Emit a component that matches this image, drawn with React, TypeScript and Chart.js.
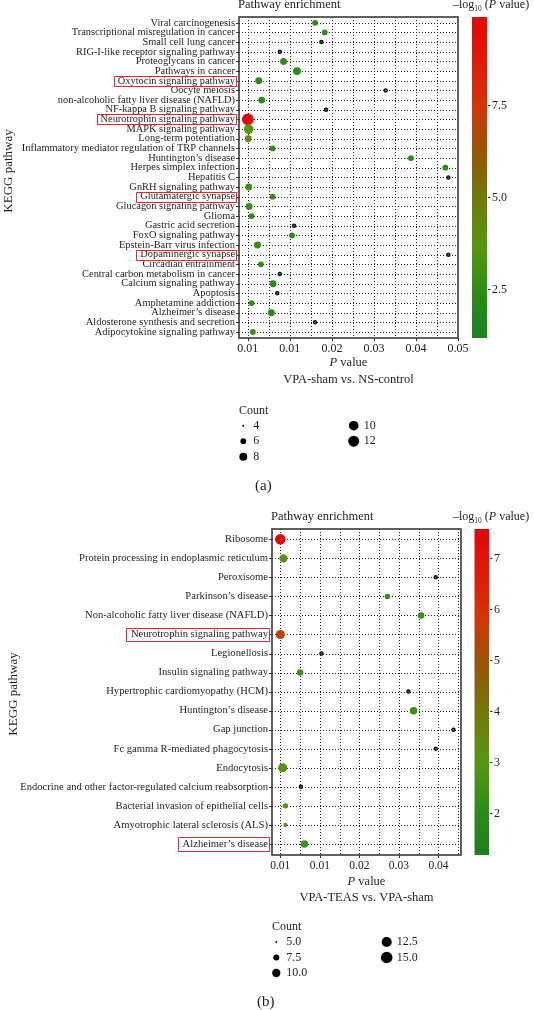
import React, { useEffect, useRef } from "react";
import { Chart, registerables } from "chart.js";

Chart.register(...registerables);

const FONT = "'Liberation Serif', 'Times New Roman', serif";

// ---------------- Panel (a) data ----------------
const aPathways = [
  "Viral carcinogenesis",
  "Transcriptional misregulation in cancer",
  "Small cell lung cancer",
  "RIG-I-like receptor signaling pathway",
  "Proteoglycans in cancer",
  "Pathways in cancer",
  "Oxytocin signaling pathway",
  "Oocyte meiosis",
  "non-alcoholic fatty liver disease (NAFLD)",
  "NF-kappa B signaling pathway",
  "Neurotrophin signaling pathway",
  "MAPK signaling pathway",
  "Long-term potentiation",
  "Inflammatory mediator regulation of TRP channels",
  "Huntington’s disease",
  "Herpes simplex infection",
  "Hepatitis C",
  "GnRH signaling pathway",
  "Glutamatergic synapse",
  "Glucagon signaling pathway",
  "Glioma",
  "Gastric acid secretion",
  "FoxO signaling pathway",
  "Epstein-Barr virus infection",
  "Dopaminergic synapse",
  "Circadian entrainment",
  "Central carbon metabolism in cancer",
  "Calcium signaling pathway",
  "Apoptosis",
  "Amphetamine addiction",
  "Alzheimer’s disease",
  "Aldosterone synthesis and secretion",
  "Adipocytokine signaling pathway",
];
const aPValue = [
  0.016, 0.0183, 0.0175, 0.0076, 0.0085, 0.0117, 0.0026, 0.0328, 0.0033, 0.0186,
  0.0, 0.0002, 0.0001, 0.0059, 0.0388, 0.047, 0.0477, 0.0002, 0.0059, 0.0003,
  0.0009, 0.011, 0.0105, 0.0023, 0.0477, 0.0031, 0.0076, 0.006, 0.007, 0.0009,
  0.0056, 0.016, 0.0012,
];
const aCount = [
  6, 6, 4, 4, 7, 8, 7, 4, 7, 4,
  13, 10, 7, 6, 6, 6, 4, 7, 6, 7,
  6, 4, 6, 7, 4, 6, 4, 7, 4, 6,
  7, 4, 6,
];
const aLogP = [
  2.2, 2.4, 1.5, 1.5, 2.3, 2.3, 2.3, 1.3, 2.3, 1.4,
  9.88, 3.7, 4.2, 2.5, 2.3, 2.3, 1.2, 2.8, 2.4, 2.7,
  2.6, 1.4, 2.3, 2.6, 1.17, 2.4, 1.5, 2.3, 1.4, 2.6,
  2.3, 1.3, 2.7,
];
const aHighlighted = [
  "Oxytocin signaling pathway",
  "Neurotrophin signaling pathway",
  "Glutamatergic synapse",
  "Dopaminergic synapse",
];
const aXTicks = [0, 0.01, 0.02, 0.03, 0.04, 0.05];
const aXTickLabels = ["0.01", "0.01", "0.02", "0.03", "0.04", "0.05"];
const aColorTicks = [2.5, 5.0, 7.5];
const aColorTickLabels = ["2.5", "5.0", "7.5"];
const aLegendCounts = [4, 6, 8, 10, 12];
const aLegendLabels = ["4", "6", "8", "10", "12"];
const aComparison = "VPA-sham vs. NS-control";
const aPanelLabel = "(a)";

// ---------------- Panel (b) data ----------------
const bPathways = [
  "Ribosome",
  "Protein processing in endoplasmic reticulum",
  "Peroxisome",
  "Parkinson’s disease",
  "Non-alcoholic fatty liver disease (NAFLD)",
  "Neurotrophin signaling pathway",
  "Legionellosis",
  "Insulin signaling pathway",
  "Hypertrophic cardiomyopathy (HCM)",
  "Huntington’s disease",
  "Gap junction",
  "Fc gamma R-mediated phagocytosis",
  "Endocytosis",
  "Endocrine and other factor-regulated calcium reabsorption",
  "Bacterial invasion of epithelial cells",
  "Amyotrophic lateral sclerosis (ALS)",
  "Alzheimer’s disease",
];
const bPValue = [
  0.0, 0.0008, 0.0393, 0.0271, 0.0356, 0.0, 0.0104, 0.005, 0.0324, 0.0337,
  0.0438, 0.0393, 0.0006, 0.0052, 0.0013, 0.0013, 0.0061,
];
const bCount = [13, 10, 5, 7, 8, 11, 5, 8, 5, 9, 5, 5, 11, 5, 7, 6, 9];
const bLogP = [
  7.58, 3.2, 1.4, 2.2, 2.3, 5.6, 1.5, 2.4, 1.3, 2.3,
  1.17, 1.4, 3.2, 1.6, 2.8, 2.9, 2.4,
];
const bHighlighted = ["Neurotrophin signaling pathway", "Alzheimer’s disease"];
const bXTicks = [0, 0.01, 0.02, 0.03, 0.04];
const bXTickLabels = ["0.01", "0.01", "0.02", "0.03", "0.04"];
const bColorTicks = [2, 3, 4, 5, 6, 7];
const bColorTickLabels = ["2", "3", "4", "5", "6", "7"];
const bLegendCounts = [5, 7.5, 10, 12.5, 15];
const bLegendLabels = ["5.0", "7.5", "10.0", "12.5", "15.0"];
const bComparison = "VPA-TEAS vs. VPA-sham";
const bPanelLabel = "(b)";

// ---------------- colour scale ----------------
const GRADIENT_STOPS: [number, number, number, number][] = [
  [0, 30, 128, 30],
  [0.12, 40, 138, 25],
  [0.28, 85, 152, 15],
  [0.44, 115, 120, 10],
  [0.58, 150, 85, 5],
  [0.73, 212, 52, 8],
  [0.87, 225, 25, 5],
  [1, 228, 5, 5],
];
function colorAt(t: number): string {
  const tt = Math.max(0, Math.min(1, t));
  for (let i = 1; i < GRADIENT_STOPS.length; i++) {
    const a = GRADIENT_STOPS[i - 1];
    const b = GRADIENT_STOPS[i];
    if (tt <= b[0]) {
      const f = (tt - a[0]) / (b[0] - a[0]);
      const r = Math.round(a[1] + (b[1] - a[1]) * f);
      const g = Math.round(a[2] + (b[2] - a[2]) * f);
      const bl = Math.round(a[3] + (b[3] - a[3]) * f);
      return `rgb(${r},${g},${bl})`;
    }
  }
  return "rgb(228,5,5)";
}

type Layout = {
  height: number;
  area: { left: number; right: number; top: number; bottom: number };
  xMin: number;
  xMax: number;
  minorStep: number;
  yPadTop: number;
  yPadBottom: number;
  labelSize: number;
  yTickPad: number;
  xTickSize: number;
  xTickPad: number;
  baseCount: number;
  sizeK: number;
  bar: { left: number; right: number };
  titleY: number;
  cbTitleX: number;
  yTitleX: number;
  yTitleY: number;
  pValueY: number;
  compY: number;
  legendX: number;
  countY: number;
  legendRows: number[];
  legendCol2X: number;
  panelX: number;
  panelY: number;
  boxPadL: number;
  boxHalfH: number;
};

type Panel = {
  pathways: string[];
  pValue: number[];
  count: number[];
  logP: number[];
  highlighted: string[];
  xTicks: number[];
  xTickLabels: string[];
  colorTicks: number[];
  colorTickLabels: string[];
  legendCounts: number[];
  legendLabels: string[];
  comparison: string;
  panelLabel: string;
  layout: Layout;
};

const W = 534;

const layoutA: Layout = {
  height: 505,
  area: { left: 239, right: 458, top: 17, bottom: 338 },
  xMin: -0.0021,
  xMax: 0.05,
  minorStep: 0.005,
  yPadTop: 0.6,
  yPadBottom: 0.62,
  labelSize: 10.4,
  yTickPad: 4,
  xTickSize: 12,
  xTickPad: 4,
  baseCount: 4,
  sizeK: 3.66,
  bar: { left: 472, right: 487 },
  titleY: 5,
  cbTitleX: 453,
  yTitleX: 9,
  yTitleY: 171,
  pValueY: 363,
  compY: 380,
  legendX: 239,
  countY: 411,
  legendRows: [425.7, 441.2, 456.8],
  legendCol2X: 353.7,
  panelX: 255,
  panelY: 486,
  boxPadL: 4,
  boxHalfH: 5,
};

const layoutB: Layout = {
  height: 505,
  area: { left: 272, right: 461, top: 24, bottom: 350 },
  xMin: -0.0021,
  xMax: 0.0457,
  minorStep: 0.005,
  yPadTop: 0.54,
  yPadBottom: 0.58,
  labelSize: 10.6,
  yTickPad: 4,
  xTickSize: 11.5,
  xTickPad: 4,
  baseCount: 5,
  sizeK: 3.26,
  bar: { left: 474.5, right: 489 },
  titleY: 11.7,
  cbTitleX: 453,
  yTitleX: 14,
  yTitleY: 189,
  pValueY: 377,
  compY: 393,
  legendX: 272,
  countY: 422,
  legendRows: [437, 452.5, 468],
  legendCol2X: 386.7,
  panelX: 257,
  panelY: 497,
  boxPadL: 5,
  boxHalfH: 6.7,
};

const panelA: Panel = {
  pathways: aPathways,
  pValue: aPValue,
  count: aCount,
  logP: aLogP,
  highlighted: aHighlighted,
  xTicks: aXTicks,
  xTickLabels: aXTickLabels,
  colorTicks: aColorTicks,
  colorTickLabels: aColorTickLabels,
  legendCounts: aLegendCounts,
  legendLabels: aLegendLabels,
  comparison: aComparison,
  panelLabel: aPanelLabel,
  layout: layoutA,
};

const panelB: Panel = {
  pathways: bPathways,
  pValue: bPValue,
  count: bCount,
  logP: bLogP,
  highlighted: bHighlighted,
  xTicks: bXTicks,
  xTickLabels: bXTickLabels,
  colorTicks: bColorTicks,
  colorTickLabels: bColorTickLabels,
  legendCounts: bLegendCounts,
  legendLabels: bLegendLabels,
  comparison: bComparison,
  panelLabel: bPanelLabel,
  layout: layoutB,
};

function radiusFor(L: Layout, c: number): number {
  return Math.sqrt(Math.max(0.2, 1 + L.sizeK * (c - L.baseCount)));
}

function buildConfig(p: Panel): any {
  const L = p.layout;
  const A = L.area;
  const n = p.pathways.length;
  const lo = Math.min(...p.logP);
  const hi = Math.max(...p.logP);
  const minCount = Math.min(...p.count);
  const colors = p.logP.map((v) => colorAt((v - lo) / (hi - lo)));
  const data = p.pathways.map((_, i) => ({
    x: p.pValue[i],
    y: i,
    r: p.count[i] === minCount ? 1.6 : radiusFor(L, p.count[i]),
  }));
  const borderColors = p.count.map((c, i) => (c === minCount ? "#111" : colors[i]));
  const borderWidths = p.count.map((c) => (c === minCount ? 1.3 : 0));

  const decor = {
    id: "decor",
    beforeDatasetsDraw(chart: any) {
      const { ctx, chartArea: a, scales } = chart;
      const x = scales.x;
      const y = scales.y;
      ctx.save();
      // dotted grid
      ctx.strokeStyle = "#222";
      ctx.lineWidth = 1;
      ctx.setLineDash([1, 2]);
      const nMinor = Math.floor(L.xMax / L.minorStep + 1e-6);
      for (let k = 0; k <= nMinor; k++) {
        const px = Math.round(x.getPixelForValue(k * L.minorStep)) + 0.5;
        if (px > a.right - 1.5) continue;
        ctx.beginPath();
        ctx.moveTo(px, a.top);
        ctx.lineTo(px, a.bottom);
        ctx.stroke();
      }
      for (let i = 0; i < n; i++) {
        const py = Math.round(y.getPixelForValue(i)) + 0.5;
        ctx.beginPath();
        ctx.moveTo(a.left, py);
        ctx.lineTo(a.right, py);
        ctx.stroke();
      }
      ctx.setLineDash([]);
      // tick marks
      ctx.strokeStyle = "#333";
      ctx.lineWidth = 1;
      for (let i = 0; i < n; i++) {
        const py = Math.round(y.getPixelForValue(i)) + 0.5;
        ctx.beginPath();
        ctx.moveTo(a.left - 3, py);
        ctx.lineTo(a.left, py);
        ctx.stroke();
      }
      for (const v of p.xTicks) {
        const px = Math.round(x.getPixelForValue(v)) + 0.5;
        ctx.beginPath();
        ctx.moveTo(px, a.bottom);
        ctx.lineTo(px, a.bottom + 3);
        ctx.stroke();
      }
      // frame
      ctx.strokeStyle = "#3a3a3a";
      ctx.lineWidth = 1.6;
      ctx.strokeRect(a.left, a.top, a.right - a.left, a.bottom - a.top);
      ctx.restore();
    },
    afterDraw(chart: any) {
      const { ctx, chartArea: a, scales } = chart;
      const y = scales.y;
      ctx.save();
      ctx.fillStyle = "#1e1e1e";
      ctx.textBaseline = "middle";

      // panel title
      ctx.font = `12.5px ${FONT}`;
      ctx.textAlign = "left";
      ctx.fillText("Pathway enrichment", a.left - 1, L.titleY);

      // colourbar
      const bt = a.top;
      const bb = a.bottom;
      const grad = ctx.createLinearGradient(0, bb, 0, bt);
      for (const s of GRADIENT_STOPS) grad.addColorStop(s[0], colorAt(s[0]));
      ctx.fillStyle = grad;
      ctx.fillRect(L.bar.left, bt, L.bar.right - L.bar.left, bb - bt);
      ctx.fillStyle = "#1e1e1e";
      ctx.strokeStyle = "#333";
      ctx.lineWidth = 1;
      ctx.font = `12px ${FONT}`;
      p.colorTicks.forEach((v, i) => {
        const py = Math.round(bb - ((v - lo) / (hi - lo)) * (bb - bt)) + 0.5;
        ctx.beginPath();
        ctx.moveTo(L.bar.right + 1, py);
        ctx.lineTo(L.bar.right + 3.5, py);
        ctx.stroke();
        ctx.fillText(p.colorTickLabels[i], L.bar.right + 5, py);
      });

      // colourbar title: –log10 (P value)
      {
        let cx = L.cbTitleX;
        const cy = L.titleY;
        ctx.font = `12px ${FONT}`;
        ctx.fillText("–log", cx, cy);
        cx += ctx.measureText("–log").width;
        ctx.font = `7.5px ${FONT}`;
        ctx.fillText("10", cx, cy + 4);
        cx += ctx.measureText("10").width;
        ctx.font = `12px ${FONT}`;
        ctx.fillText(" (", cx, cy);
        cx += ctx.measureText(" (").width;
        ctx.font = `italic 12px ${FONT}`;
        ctx.fillText("P", cx, cy);
        cx += ctx.measureText("P").width;
        ctx.font = `12px ${FONT}`;
        ctx.fillText(" value)", cx, cy);
      }

      // x-axis title
      const mid = (a.left + a.right) / 2;
      {
        ctx.font = `italic 12.5px ${FONT}`;
        const w1 = ctx.measureText("P").width;
        ctx.font = `12.5px ${FONT}`;
        const w2 = ctx.measureText(" value").width;
        const sx = mid - (w1 + w2) / 2;
        ctx.font = `italic 12.5px ${FONT}`;
        ctx.fillText("P", sx, L.pValueY);
        ctx.font = `12.5px ${FONT}`;
        ctx.fillText(" value", sx + w1, L.pValueY);
        ctx.textAlign = "center";
        ctx.fillText(p.comparison, mid, L.compY);
        ctx.textAlign = "left";
      }

      // y-axis title
      ctx.save();
      ctx.translate(L.yTitleX, L.yTitleY);
      ctx.rotate(-Math.PI / 2);
      ctx.textAlign = "center";
      ctx.font = `13px ${FONT}`;
      ctx.fillText("KEGG pathway", 0, 0);
      ctx.restore();

      // size legend
      ctx.font = `12px ${FONT}`;
      ctx.textAlign = "left";
      ctx.fillText("Count", L.legendX, L.countY);
      const dotX1 = L.legendX + 4.3;
      p.legendCounts.forEach((c, i) => {
        const col = i < 3 ? 0 : 1;
        const row = i < 3 ? i : i - 3;
        const dx = col === 0 ? dotX1 : L.legendCol2X;
        const dy = L.legendRows[row];
        ctx.fillStyle = "#000";
        ctx.beginPath();
        ctx.arc(dx, dy, radiusFor(L, c), 0, Math.PI * 2);
        ctx.fill();
        ctx.fillStyle = "#1e1e1e";
        ctx.fillText(p.legendLabels[i], dx + 10, dy);
      });

      // panel label
      ctx.font = `15px ${FONT}`;
      ctx.fillText(p.panelLabel, L.panelX, L.panelY);

      // red boxes around highlighted labels
      ctx.strokeStyle = "rgb(225,40,50)";
      ctx.lineWidth = 1;
      ctx.font = `${L.labelSize}px ${FONT}`;
      for (const name of p.highlighted) {
        const i = p.pathways.indexOf(name);
        if (i < 0) continue;
        const py = y.getPixelForValue(i);
        const textRight = a.left - L.yTickPad;
        const w = ctx.measureText(name).width;
        const left = Math.round(textRight - w - L.boxPadL) + 0.5;
        const right = Math.round(a.left - 3.5) + 0.5;
        const top = Math.round(py - L.boxHalfH) + 0.5;
        const bottom = Math.round(py + L.boxHalfH) + 0.5;
        ctx.beginPath();
        ctx.rect(left, top, right - left, bottom - top);
        ctx.stroke();
      }
      ctx.restore();
    },
  };

  return {
    type: "bubble",
    data: {
      datasets: [
        {
          data,
          backgroundColor: colors,
          borderColor: borderColors,
          borderWidth: borderWidths,
          hoverRadius: 0,
        },
      ],
    },
    options: {
      animation: false,
      responsive: false,
      maintainAspectRatio: false,
      devicePixelRatio: 1,
      events: [],
      layout: { padding: { left: 0, right: W - A.right, top: A.top, bottom: 0 } },
      plugins: {
        legend: { display: false },
        tooltip: { enabled: false },
        title: { display: false },
      },
      scales: {
        x: {
          type: "linear",
          position: "bottom",
          min: L.xMin,
          max: L.xMax,
          afterBuildTicks: (s: any) => {
            s.ticks = p.xTicks.map((v) => ({ value: v }));
          },
          afterFit: (s: any) => {
            s.height = L.height - A.bottom;
          },
          grid: { display: false, drawTicks: false },
          border: { display: false },
          ticks: {
            autoSkip: false,
            maxRotation: 0,
            padding: L.xTickPad,
            color: "#222",
            font: { family: FONT, size: L.xTickSize },
            callback: (_v: any, i: number) => p.xTickLabels[i],
          },
        },
        y: {
          type: "linear",
          position: "left",
          reverse: true,
          min: -L.yPadTop,
          max: n - 1 + L.yPadBottom,
          afterBuildTicks: (s: any) => {
            s.ticks = p.pathways.map((_, i) => ({ value: i }));
          },
          afterFit: (s: any) => {
            s.width = A.left;
          },
          grid: { display: false, drawTicks: false },
          border: { display: false },
          ticks: {
            autoSkip: false,
            padding: L.yTickPad,
            color: "#1e1e1e",
            font: { family: FONT, size: L.labelSize },
            callback: (v: any) => p.pathways[Math.round(Number(v))],
          },
        },
      },
    },
    plugins: [decor],
  };
}

function PanelChart({ panel, top }: { panel: Panel; top: number }) {
  const ref = useRef<HTMLCanvasElement | null>(null);
  useEffect(() => {
    if (!ref.current) return;
    const chart = new Chart(ref.current, buildConfig(panel));
    return () => chart.destroy();
  }, [panel]);
  return (
    <canvas
      ref={ref}
      width={W}
      height={panel.layout.height}
      style={{
        position: "absolute",
        left: 0,
        top,
        width: W,
        height: panel.layout.height,
        display: "block",
      }}
    />
  );
}

export default function App() {
  return (
    <div
      style={{
        position: "absolute",
        left: 0,
        top: 0,
        width: W,
        height: 1010,
        background: "#fff",
        overflow: "hidden",
      }}
    >
      <PanelChart panel={panelA} top={0} />
      <PanelChart panel={panelB} top={505} />
    </div>
  );
}
